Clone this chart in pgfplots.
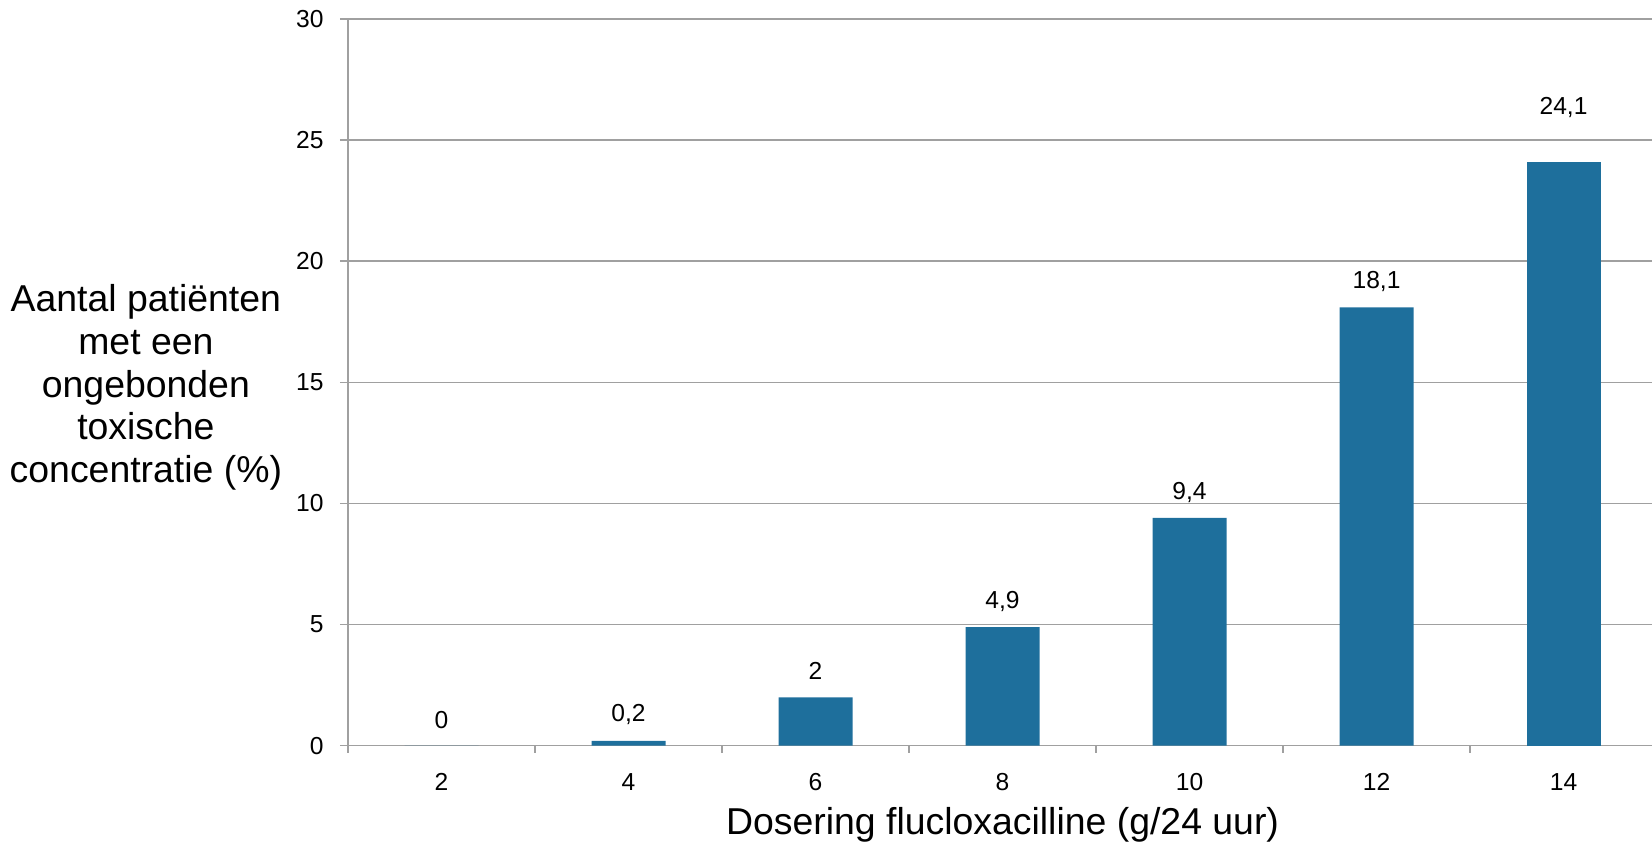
\documentclass[border=0pt]{standalone}
\usepackage{fontspec}
\setmainfont{Liberation Sans}
\usepackage{pgfplots}
\usepackage{pgfplotstable}
\pgfplotsset{compat=1.18}
\definecolor{barblue}{RGB}{30,111,156}
\definecolor{gridgray}{RGB}{160,160,160}
\pgfplotstableread{
x y lab
1 0    0
2 0.2  0,2
3 2    2
4 4.9  4,9
5 9.4  9,4
6 18.1 18,1
}\datatable
\pgfplotstableread{
x y lab
7 24.1 24,1
}\datatablelast
\begin{document}
\begin{tikzpicture}
\begin{axis}[
  at={(0,0)}, anchor=south west,
  scale only axis,
  width=652pt, height=363.35pt,
  xmin=0.5, xmax=7.473,
  ymin=0, ymax=30,
  axis x line*=bottom, axis y line*=left,
  axis line style={gridgray, line width=0.75pt, -},
  ymajorgrids, grid style={gridgray, line width=0.75pt},
  ytick={0,5,...,30},
  xtick={1,...,7},
  xticklabels={2,4,6,8,10,12,14},
  minor xtick={0.5,1.5,...,7.5},
  tick align=outside,
  major tick length=4pt,
  minor tick length=3.5pt,
  x tick style={draw=none},
  minor x tick style={draw=gridgray, line width=0.75pt},
  y tick style={gridgray, line width=0.75pt},
  /pgf/number format/assume math mode=true,
  tick label style={font=\fontsize{12.3}{14}\selectfont},
  xticklabel style={anchor=center, yshift=-14pt},
  yticklabel style={anchor=east, inner sep=0pt, xshift=-8pt},
  xlabel={Dosering flucloxacilline (g/24 uur)},
  xlabel style={font=\fontsize{18.7}{21.5}\selectfont, anchor=center, at={(axis description cs:0.502,-0.109)}},
  ylabel={Aantal patiënten\\met een\\ongebonden\\toxische\\concentratie (\%)},
  ylabel style={font=\fontsize{18.7}{21.3}\selectfont, align=center, rotate=-90, anchor=center, at={(axis description cs:-0.155,0.493)}},
  ybar, bar width=37pt, bar shift=0pt,
  point meta=explicit symbolic,
  nodes near coords,
  every node near coord/.append style={anchor=center, font=\fontsize{12.3}{14}\selectfont, black},
]
\addplot[fill=barblue, draw=none, every node near coord/.append style={yshift=13pt}] table[x=x, y=y, meta=lab] {\datatable};
\addplot[fill=barblue, draw=none, every node near coord/.append style={yshift=27pt}] table[x=x, y=y, meta=lab] {\datatablelast};
\end{axis}
\pgfresetboundingbox
\useasboundingbox (-174pt,-49.65pt) rectangle (652pt,372.85pt);
\end{tikzpicture}
\end{document}
